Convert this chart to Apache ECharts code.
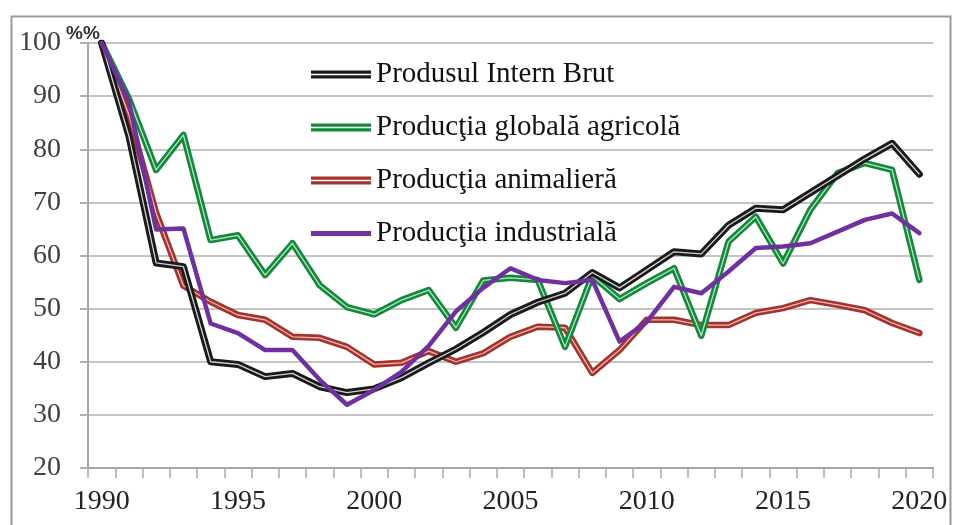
<!DOCTYPE html>
<html>
<head>
<meta charset="utf-8">
<script src="https://cdn.jsdelivr.net/npm/echarts@6/dist/echarts.min.js"></script>
<style>
html,body{margin:0;padding:0;background:#fff;}
#chart{width:953px;height:525px;}
</style>
</head>
<body>
<div id="chart"></div>
<script>
const years = [];
for (let y = 1990; y <= 2020; y++) years.push(String(y));

const seriesNames = ['Produsul Intern Brut', 'Producţia globală agricolă', 'Producţia animalieră', 'Producţia industrială'];

const pib = [100, 82.5, 58.6, 57.9, 40.0, 39.5, 37.2, 37.8, 35.3, 34.2, 34.9, 37.0, 39.8, 42.4, 45.5, 48.9, 51.2, 52.9, 56.8, 53.9, 57.3, 60.7, 60.3, 65.7, 68.9, 68.6, 71.8, 75.0, 78.2, 81.1, 75.3];
const agricola = [100, 89.5, 76.1, 82.7, 62.9, 63.8, 56.3, 62.3, 54.4, 50.3, 48.9, 51.6, 53.5, 46.4, 55.3, 55.8, 55.4, 42.8, 56.2, 51.8, 54.8, 57.6, 44.9, 62.6, 67.3, 58.5, 68.6, 75.5, 77.4, 76.1, 55.4];
const animaliera = [100, 86.5, 68.0, 54.3, 51.3, 48.8, 47.9, 44.7, 44.5, 42.8, 39.5, 39.8, 42.0, 40.0, 41.6, 44.7, 46.6, 46.4, 37.9, 42.2, 47.9, 47.9, 46.9, 46.9, 49.2, 50.1, 51.6, 50.7, 49.7, 47.3, 45.4];
const industriala = [100, 89.0, 64.9, 65.1, 47.2, 45.4, 42.2, 42.2, 36.6, 31.9, 34.7, 38.1, 43.0, 49.5, 53.9, 57.6, 55.4, 54.8, 55.4, 43.8, 47.5, 54.1, 52.9, 57.0, 61.4, 61.7, 62.3, 64.5, 66.7, 67.9, 64.2];

const yMin = 20, yMax = 100, yStep = 10;
const labelEvery = 5;

const serif = '"Liberation Serif", "Times New Roman", serif';
const doubleIcon = 'path://M0,0 L60,0 L60,8 L0,8 Z M0,3.3 L0,4.7 L60,4.7 L60,3.3 Z';

function lineSeries(name, data, color, width, z) {
  return {
    name: name, type: 'line', data: data, symbol: 'none', z: z,
    lineStyle: { color: color, width: width, join: 'round', cap: 'round' },
    itemStyle: { color: color },
    emphasis: { disabled: true }
  };
}
function innerSeries(id, data, color, width, z) {
  return {
    name: id, type: 'line', data: data, symbol: 'none', silent: true, z: z,
    lineStyle: { color: color, width: width, join: 'round' },
    emphasis: { disabled: true }, tooltip: { show: false }
  };
}

const chart = echarts.init(document.getElementById('chart'), null, { renderer: 'canvas' });
chart.setOption({
  animation: false,
  backgroundColor: '#ffffff',
  grid: { left: 88, right: 20, top: 43, bottom: 57, containLabel: false },
  graphic: [
    { type: 'rect', left: 9, top: 14, shape: { width: 939, height: 530 }, style: { fill: 'none', stroke: '#9a9a9a', lineWidth: 2 }, z: -10 },
    { type: 'text', left: 66, top: 24, style: { text: '%%', font: 'bold 19px "Liberation Sans", Arial, sans-serif', fill: '#333' } }
  ],
  legend: {
    orient: 'vertical', left: 306, top: 54,
    itemWidth: 60, itemHeight: 8, itemGap: 22,
    selectedMode: false,
    data: [
      { name: seriesNames[0], icon: doubleIcon, itemStyle: { color: '#1a1a1a' } },
      { name: seriesNames[1], icon: doubleIcon, itemStyle: { color: '#12893a' } },
      { name: seriesNames[2], icon: doubleIcon, itemStyle: { color: '#a3332c' } },
      { name: seriesNames[3], icon: 'path://M0,0 L60,0 L60,5 L0,5 Z', itemStyle: { color: '#7030a0' } }
    ],
    textStyle: { fontFamily: serif, fontSize: 29, color: '#111', lineHeight: 31 }
  },
  xAxis: {
    type: 'category', data: years, boundaryGap: true,
    axisLine: { show: true, lineStyle: { color: '#a6a6a6', width: 2 } },
    axisTick: { show: true, interval: 0, length: 10, lineStyle: { color: '#a6a6a6', width: 1.5 } },
    axisLabel: {
      interval: 0, margin: 20, fontFamily: serif, fontSize: 28, color: '#222',
      formatter: function (v, i) { return (i % labelEvery === 0) ? v : ''; }
    },
    splitLine: { show: false }
  },
  yAxis: {
    type: 'value', min: yMin, max: yMax, interval: yStep,
    axisLine: { show: true, lineStyle: { color: '#a6a6a6', width: 2 } },
    axisTick: { show: true, length: 8, lineStyle: { color: '#b0b0b0', width: 2 } },
    axisLabel: { margin: 27, fontFamily: serif, fontSize: 28, color: '#404040' },
    splitLine: { show: true, lineStyle: { color: '#c4c4c4', width: 2 } }
  },
  series: [
    lineSeries(seriesNames[2], animaliera, '#a3332c', 6.5, 2),
    innerSeries('in_anim', animaliera, 'rgba(245,200,195,0.9)', 1.3, 3),
    lineSeries(seriesNames[1], agricola, '#12893a', 6.5, 4),
    innerSeries('in_agr', agricola, 'rgba(200,240,210,0.9)', 1.3, 5),
    lineSeries(seriesNames[0], pib, '#1a1a1a', 7, 6),
    innerSeries('in_pib', pib, 'rgba(220,220,220,0.95)', 1.3, 7),
    lineSeries(seriesNames[3], industriala, '#7030a0', 4.5, 8)
  ]
});
</script>
</body>
</html>
